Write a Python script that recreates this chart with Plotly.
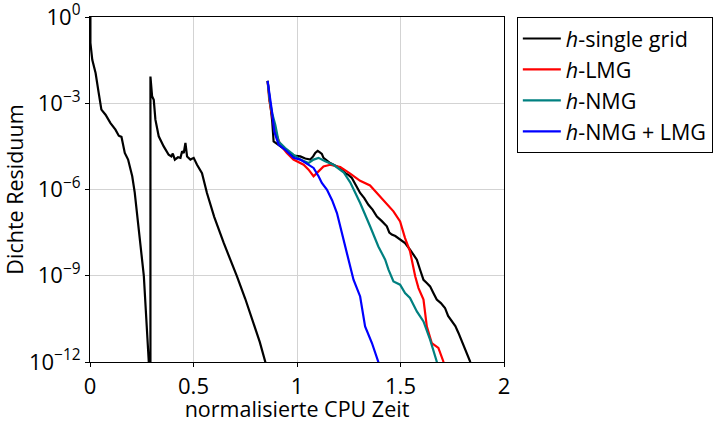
import plotly.graph_objects as go

# ---- data (x: normalised CPU time, y: log10 of density residual) ----
single_seg1_x = [0.002, 0.002, 0.011, 0.027, 0.042, 0.055, 0.075, 0.099, 0.123, 0.139, 0.152, 0.168, 0.184, 0.204, 0.216, 0.236, 0.26, 0.284, 0.291]
single_seg1_y = [0.0, -0.9, -1.49, -1.95, -2.64, -3.22, -3.40, -3.69, -3.92, -4.13, -4.17, -4.73, -4.96, -5.54, -6.1, -7.51, -9.0, -12.0, -12.4]

single_seg2_x = [0.292, 0.292, 0.300, 0.308, 0.316, 0.332, 0.356, 0.380, 0.393, 0.400, 0.410, 0.425, 0.437, 0.445, 0.453, 0.461, 0.469, 0.485, 0.501, 0.517, 0.533, 0.541, 0.565, 0.60, 0.646, 0.68, 0.71, 0.75, 0.79, 0.82, 0.847, 0.852]
single_seg2_y = [-12.4, -2.07, -2.76, -2.88, -3.57, -4.15, -4.50, -4.79, -4.85, -4.75, -4.96, -4.88, -4.90, -4.67, -4.73, -4.38, -4.85, -4.96, -4.90, -5.14, -5.31, -5.43, -6.12, -6.95, -7.86, -8.45, -9.02, -9.8, -10.64, -11.3, -12.0, -12.3]

single_seg3_x = [0.858, 0.870, 0.880, 0.887, 0.911, 0.943, 0.983, 1.016, 1.040, 1.064, 1.078, 1.088, 1.100, 1.109, 1.120, 1.128, 1.145, 1.160, 1.193, 1.215, 1.233, 1.250, 1.265, 1.285, 1.305, 1.325, 1.345, 1.365, 1.386, 1.410, 1.434, 1.446, 1.458, 1.475, 1.490, 1.505, 1.522, 1.546, 1.562, 1.579, 1.595, 1.611, 1.627, 1.643, 1.660, 1.675, 1.695, 1.715, 1.730, 1.748, 1.765, 1.780, 1.795, 1.804, 1.820, 1.836, 1.845]
single_seg3_y = [-2.22, -2.9, -3.6, -4.33, -4.46, -4.62, -4.82, -4.85, -4.92, -4.96, -4.85, -4.73, -4.66, -4.70, -4.76, -4.90, -4.98, -5.08, -5.20, -5.30, -5.43, -5.50, -5.60, -5.85, -6.12, -6.30, -6.53, -6.70, -6.94, -7.10, -7.28, -7.50, -7.57, -7.62, -7.69, -7.75, -7.86, -8.09, -8.25, -8.44, -8.80, -9.14, -9.25, -9.37, -9.62, -9.83, -9.95, -10.12, -10.40, -10.59, -10.75, -10.99, -11.25, -11.46, -11.75, -11.98, -12.3]

lmg_x = [0.858, 0.866, 0.879, 0.895, 0.919, 0.951, 0.983, 1.032, 1.056, 1.080, 1.104, 1.128, 1.160, 1.209, 1.257, 1.305, 1.353, 1.386, 1.426, 1.466, 1.498, 1.522, 1.546, 1.571, 1.587, 1.611, 1.627, 1.651, 1.683, 1.707, 1.712]
lmg_y = [-2.22, -2.9, -3.40, -3.98, -4.44, -4.73, -4.96, -5.14, -5.31, -5.54, -5.37, -5.20, -5.14, -5.22, -5.45, -5.70, -5.86, -6.12, -6.47, -6.76, -7.11, -7.69, -8.15, -9.02, -9.43, -9.83, -10.76, -11.34, -11.51, -11.98, -12.3]

nmg_x = [0.858, 0.868, 0.880, 0.895, 0.911, 0.943, 0.983, 1.016, 1.056, 1.080, 1.104, 1.136, 1.176, 1.225, 1.257, 1.305, 1.353, 1.393, 1.426, 1.442, 1.466, 1.498, 1.522, 1.546, 1.579, 1.611, 1.643, 1.675, 1.682]
nmg_y = [-2.22, -2.9, -3.35, -3.75, -4.33, -4.56, -4.79, -4.96, -5.08, -4.96, -4.90, -5.02, -5.14, -5.40, -5.75, -6.47, -7.28, -7.98, -8.44, -8.79, -9.20, -9.31, -9.60, -9.77, -10.24, -10.59, -11.22, -11.98, -12.3]

nmglmg_x = [0.858, 0.870, 0.879, 0.890, 0.911, 0.943, 0.983, 1.016, 1.056, 1.080, 1.104, 1.120, 1.145, 1.170, 1.193, 1.215, 1.241, 1.273, 1.305, 1.329, 1.362, 1.393, 1.40]
nmglmg_y = [-2.22, -2.8, -3.28, -3.98, -4.44, -4.62, -4.90, -4.96, -5.14, -5.25, -5.54, -5.77, -6.01, -6.38, -6.82, -7.45, -8.21, -9.14, -9.72, -10.76, -11.34, -12.0, -12.3]

series_names = ["<i>h</i>-single grid", "<i>h</i>-LMG", "<i>h</i>-NMG", "<i>h</i>-NMG + LMG"]
series_colors = ["#000000", "#ff0000", "#008080", "#0000ff"]

x_ticks = [0, 0.5, 1, 1.5, 2]
x_ticktext = ["0", "0.5", "1", "1.5", "2"]
y_exponents = [0, -3, -6, -9, -12]
y_ticktext = ["10<sup>0</sup>", "10<sup>\u22123</sup>", "10<sup>\u22126</sup>", "10<sup>\u22129</sup>", "10<sup>\u221212</sup>"]


def pw(vals):
    return [None if v is None else 10 ** v for v in vals]


single_x = single_seg1_x + single_seg2_x + [None] + single_seg3_x
single_y = single_seg1_y + single_seg2_y + [None] + single_seg3_y

all_series = [
    (single_x, single_y),
    (lmg_x, lmg_y),
    (nmg_x, nmg_y),
    (nmglmg_x, nmglmg_y),
]

FONT = "Open Sans"
fig = go.Figure()
for i, ((xs, ys), name, col) in enumerate(zip(all_series, series_names, series_colors)):
    fig.add_trace(go.Scatter(
        x=xs, y=pw(ys), mode="lines", name=name,
        line=dict(color=col, width=2.2), connectgaps=False,
        legendgroup=str(i),
    ))

fig.update_layout(
    width=717, height=423,
    margin=dict(l=89.5, r=213, t=17.3, b=60.7, autoexpand=False),
    plot_bgcolor="white", paper_bgcolor="white",
    font=dict(family=FONT, size=19, color="black"),
    showlegend=True,
    legend=dict(
        x=1.031, y=1.0, xanchor="left", yanchor="top",
        bordercolor="black", borderwidth=1,
        font=dict(family=FONT, size=21.5, color="black"),
        tracegroupgap=0, itemwidth=38,
    ),
)
fig.update_xaxes(
    range=[0, 2], tickvals=x_ticks, ticktext=x_ticktext,
    showgrid=True, gridcolor="#d3d3d3", gridwidth=1.2,
    showline=True, linecolor="black", linewidth=1.2, mirror=True,
    ticks="outside", ticklen=4, tickcolor="black",
    tickfont=dict(size=22), zeroline=False, automargin=False,
    ticklabeloverflow="allow",
    title=dict(text="normalisierte CPU Zeit", font=dict(size=21.5), standoff=14),
)
fig.update_yaxes(
    type="log", range=[-12, 0],
    tickvals=[10 ** e for e in y_exponents], ticktext=y_ticktext,
    showgrid=True, gridcolor="#d3d3d3", gridwidth=1.2,
    showline=True, linecolor="black", linewidth=1.2, mirror=True,
    ticks="outside", ticklen=4, tickcolor="black",
    tickfont=dict(size=22), zeroline=False, automargin=False,
    ticklabeloverflow="allow",
    title=dict(text="Dichte Residuum", font=dict(size=21.5), standoff=2),
)

fig.write_html("out.html", config={"displayModeBar": False},
               post_script="document.body.style.margin='0px';")
